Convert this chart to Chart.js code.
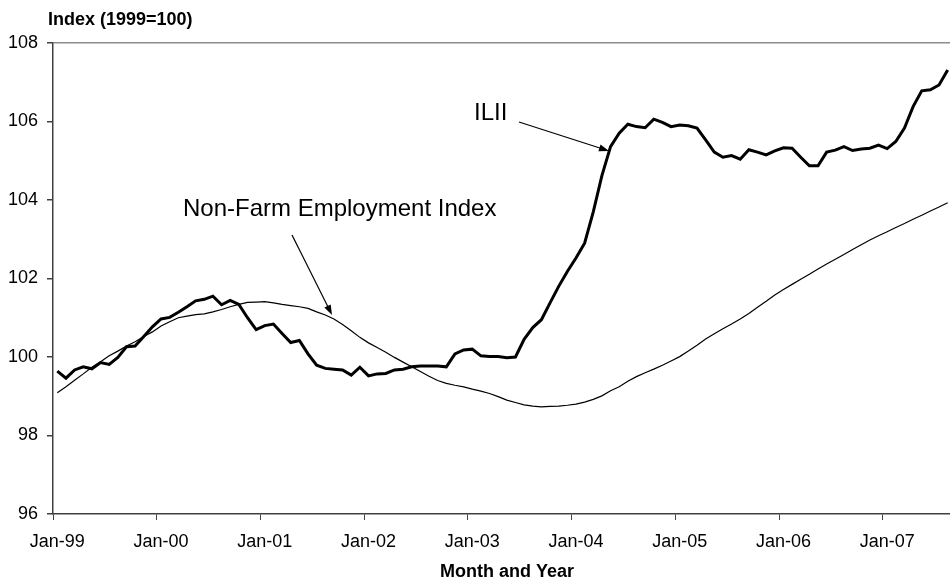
<!DOCTYPE html>
<html>
<head>
<meta charset="utf-8">
<script src="https://cdn.jsdelivr.net/npm/chart.js@4/dist/chart.umd.min.js"></script>
<style>
html,body{margin:0;padding:0;background:#fff;overflow:hidden}
#wrap{width:952px;height:579px;position:relative}
</style>
</head>
<body>
<div id="wrap"><canvas id="c"></canvas></div>
<script>
// monthly categories Jan-99 .. Aug-07
const MONTHS=['Jan','Feb','Mar','Apr','May','Jun','Jul','Aug','Sep','Oct','Nov','Dec'];
const YEARS=['99','00','01','02','03','04','05','06','07'];
const LAST_MONTH_2007=8;
const labels=[];
YEARS.forEach((y,yi)=>{const n=yi===YEARS.length-1?LAST_MONTH_2007:12;for(let m=0;m<n;m++) labels.push(MONTHS[m]+'-'+y);});

const ilii=[99.64,99.46,99.67,99.75,99.70,99.86,99.81,99.99,100.26,100.28,100.52,100.77,
100.97,101.01,101.14,101.28,101.43,101.47,101.55,101.33,101.44,101.34,101.00,100.70,
100.80,100.84,100.60,100.37,100.42,100.08,99.79,99.71,99.69,99.67,99.54,99.74,
99.52,99.57,99.58,99.67,99.69,99.75,99.77,99.77,99.77,99.75,100.08,100.18,
100.20,100.03,100.01,100.01,99.98,100.00,100.45,100.75,100.95,101.38,101.80,102.18,
102.52,102.90,103.70,104.62,105.36,105.70,105.93,105.87,105.84,106.06,105.98,105.87,
105.91,105.89,105.83,105.53,105.22,105.09,105.13,105.04,105.28,105.22,105.15,105.25,
105.33,105.32,105.09,104.87,104.87,105.22,105.27,105.36,105.26,105.30,105.32,105.40,
105.31,105.49,105.83,106.38,106.78,106.81,106.93,107.31];

const nonFarm=[99.09,99.24,99.41,99.57,99.74,99.88,100.03,100.15,100.28,100.39,100.52,100.64,
100.79,100.90,101.00,101.04,101.08,101.10,101.15,101.21,101.28,101.34,101.39,101.40,
101.41,101.38,101.34,101.31,101.28,101.24,101.15,101.07,100.97,100.83,100.67,100.50,
100.36,100.24,100.12,99.99,99.87,99.75,99.63,99.51,99.40,99.33,99.28,99.24,
99.18,99.13,99.07,98.99,98.90,98.84,98.78,98.75,98.73,98.74,98.75,98.77,
98.80,98.85,98.92,99.01,99.14,99.24,99.38,99.50,99.60,99.69,99.79,99.90,
100.01,100.15,100.30,100.46,100.59,100.72,100.84,100.97,101.11,101.27,101.42,101.58,
101.72,101.85,101.98,102.11,102.24,102.37,102.49,102.61,102.74,102.86,102.98,103.09,
103.19,103.30,103.40,103.51,103.61,103.72,103.82,103.93];

const Y_MIN=96,Y_MAX=108,Y_STEP=2;
const FONT='"Liberation Sans", Arial, sans-serif';
const AXIS='#404040';

function arrow(ctx,x1,y1,x2,y2){
 const a=Math.atan2(y2-y1,x2-x1),L=10,W=3.5;
 ctx.beginPath();ctx.moveTo(x1,y1);ctx.lineTo(x2-Math.cos(a)*L*0.8,y2-Math.sin(a)*L*0.8);ctx.stroke();
 ctx.beginPath();ctx.moveTo(x2,y2);
 ctx.lineTo(x2-Math.cos(a)*L-Math.sin(a)*W,y2-Math.sin(a)*L+Math.cos(a)*W);
 ctx.lineTo(x2-Math.cos(a)*L+Math.sin(a)*W,y2-Math.sin(a)*L-Math.cos(a)*W);
 ctx.closePath();ctx.fill();
}

const notes={
 id:'notes',
 afterDraw(chart){
  const ctx=chart.ctx;ctx.save();
  ctx.fillStyle='#000';ctx.strokeStyle='#000';ctx.lineWidth=1.2;
  ctx.font='bold 18px '+FONT;ctx.textBaseline='middle';ctx.textAlign='left';
  ctx.fillText('Index (1999=100)',48,20);
  ctx.textAlign='center';
  ctx.fillText('Month and Year',507,572);
  ctx.font='24px '+FONT;ctx.textAlign='left';ctx.textBaseline='alphabetic';
  ctx.fillText('Non-Farm Employment Index',183,216);
  ctx.fillText('ILII',474,120);
  arrow(ctx,292,235,332,315);
  arrow(ctx,519,122,609,151);
  ctx.restore();
 }
};

new Chart(document.getElementById('c'),{
 type:'line',
 data:{labels:labels,datasets:[
  {label:'ILII',data:ilii,borderColor:'#000',borderWidth:3,pointRadius:0,tension:0,fill:false},
  {label:'Non-Farm Employment Index',data:nonFarm,borderColor:'#000',borderWidth:1.2,pointRadius:0,tension:0,fill:false}
 ]},
 options:{
  responsive:true,maintainAspectRatio:false,animation:false,devicePixelRatio:1,
  layout:{padding:{top:43,left:0,right:0,bottom:0}},
  plugins:{legend:{display:false},tooltip:{enabled:false}},
  scales:{
   x:{
    offset:true,
    grid:{offset:true,drawOnChartArea:false,tickLength:6,tickWidth:1,
     tickColor:c=>c.index%12===0?AXIS:'rgba(0,0,0,0)'},
    border:{color:AXIS,width:1.5},
    ticks:{autoSkip:false,maxRotation:0,minRotation:0,padding:11,color:'#000',font:{family:FONT,size:18},
     callback:function(v,i){return i%12===0?labels[i]:'';}},
    afterFit:s=>{s.height=65;s.paddingLeft=0;s.paddingRight=0;}
   },
   y:{
    min:Y_MIN,max:Y_MAX,
    grid:{color:c=>c.tick&&c.tick.value===Y_MAX?'#8c8c8c':'rgba(0,0,0,0)',lineWidth:1.5,tickLength:6,tickColor:AXIS},
    border:{color:AXIS,width:1.5},
    ticks:{stepSize:Y_STEP,padding:9,color:'#000',font:{family:FONT,size:18}},
    afterFit:s=>{s.width=53;}
   }
  }
 },
 plugins:[notes]
});
</script>
</body>
</html>
